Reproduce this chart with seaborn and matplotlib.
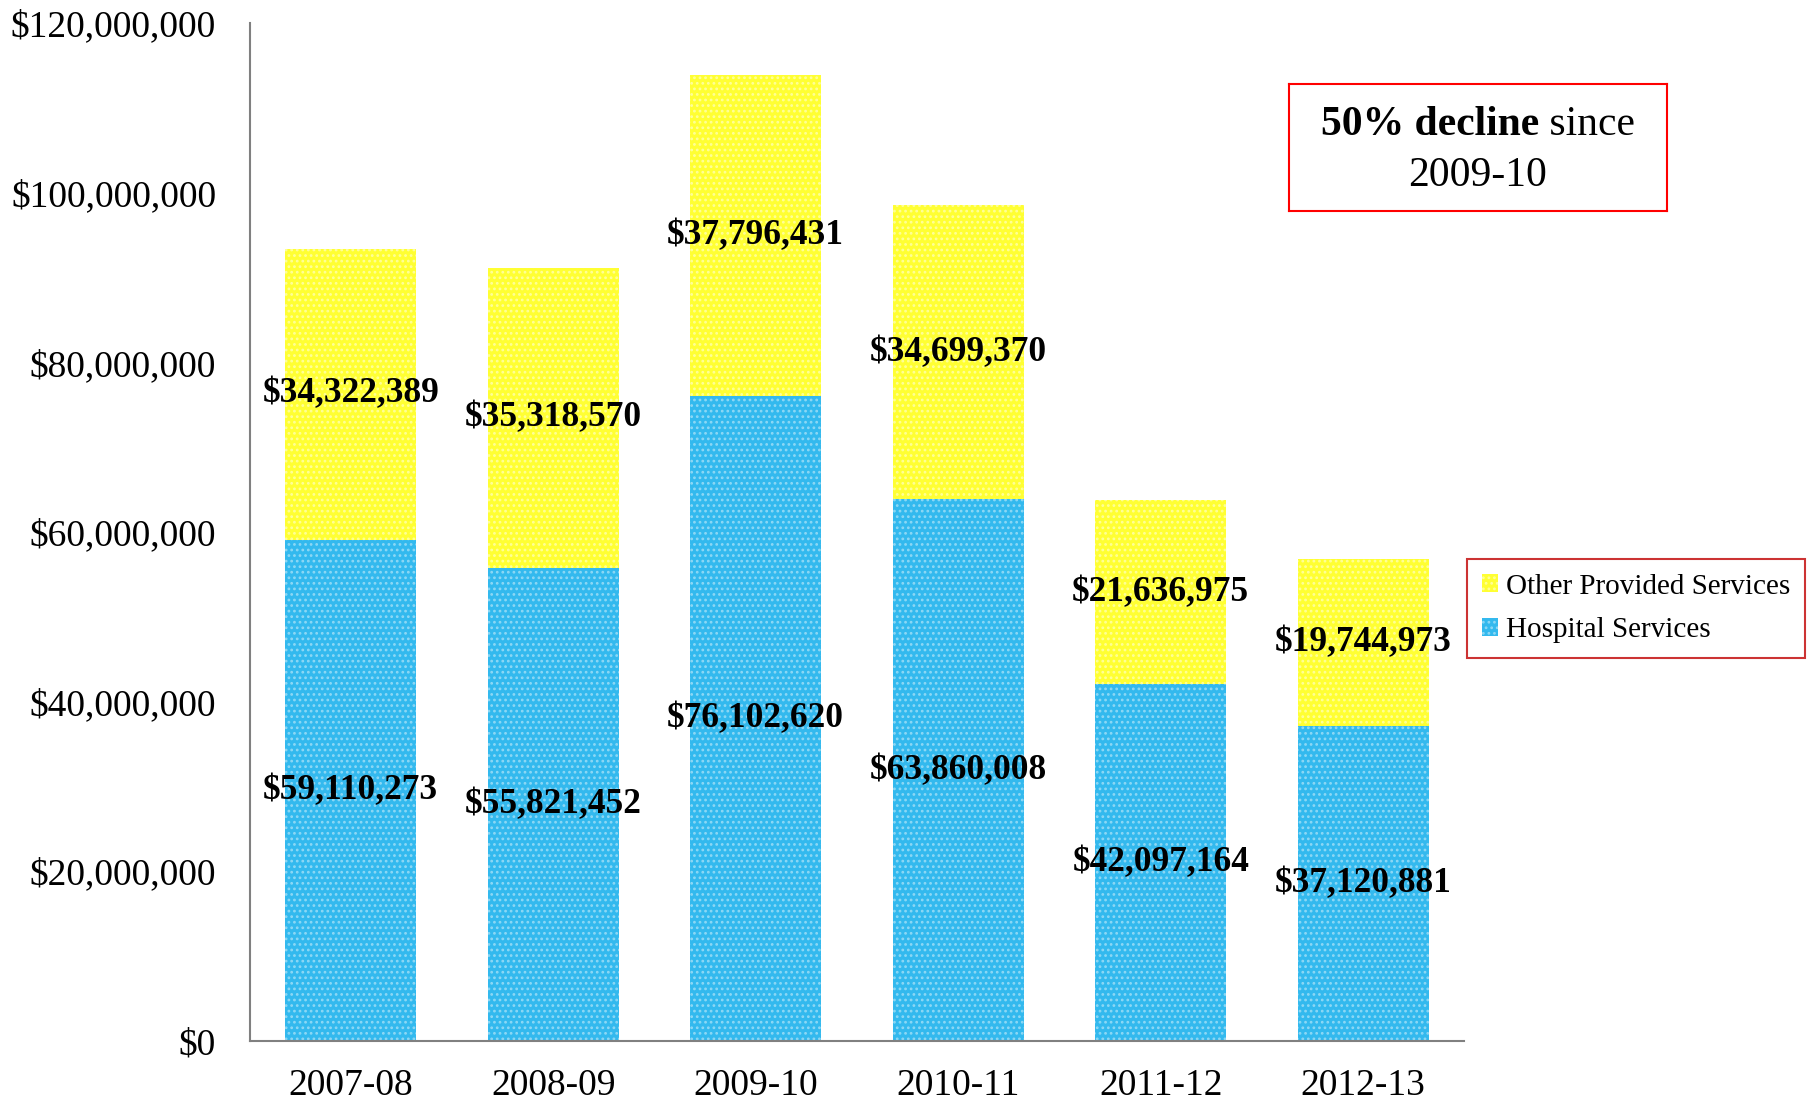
import matplotlib
matplotlib.use("Agg")
import matplotlib.pyplot as plt
import seaborn as sns
import pandas as pd
import numpy as np
from matplotlib.patches import Patch

years = ["2007-08", "2008-09", "2009-10", "2010-11", "2011-12", "2012-13"]
hospital = [59110273, 55821452, 76102620, 63860008, 42097164, 37120881]
other = [34322389, 35318570, 37796431, 34699370, 21636975, 19744973]
yticks = [0, 20000000, 40000000, 60000000, 80000000, 100000000, 120000000]

sns.set_theme(style="white")
plt.rcParams['font.family'] = ['Liberation Serif', 'DejaVu Serif']
plt.rcParams['hatch.linewidth'] = 1.2
plt.rcParams['text.color'] = 'black'
plt.rcParams['xtick.color'] = 'black'
plt.rcParams['ytick.color'] = 'black'

YEL = "#FFFF33"
BLU = "#33B9EE"

df = pd.DataFrame({"year": years, "hospital": hospital, "other": other})
df["total"] = df["hospital"] + df["other"]

fig = plt.figure(figsize=(18.08, 11.02), dpi=100)
ax = fig.add_axes([0.138, 0.0553, 0.672, 0.9237])

sns.barplot(data=df, x="year", y="total", color=YEL, width=0.645, ax=ax,
            saturation=1, edgecolor="#FFFF99", linewidth=0, hatch="...")
sns.barplot(data=df, x="year", y="hospital", color=BLU, width=0.645, ax=ax,
            saturation=1, edgecolor="#8ED8F5", linewidth=0, hatch="...")

for i, (h, o) in enumerate(zip(hospital, other)):
    ax.text(i, h / 2, f"${h:,}", ha="center", va="center", fontsize=25.5,
            fontweight="bold", color="black")
    ax.text(i, h + o / 2, f"${o:,}", ha="center", va="center", fontsize=25.5,
            fontweight="bold", color="black")

ax.set_ylim(0, 120000000)
ax.set_xlim(-0.5, 5.5)
ax.set_yticks(yticks)
ax.set_yticklabels([f"${v:,}" for v in yticks], fontsize=27)
ax.tick_params(axis="x", labelsize=27, length=0, pad=20, labelcolor="black")
ax.tick_params(axis="y", length=0, pad=24, labelcolor="black")
ax.set_xlabel("")
ax.set_ylabel("")
for s in ["top", "right"]:
    ax.spines[s].set_visible(False)
for s in ["left", "bottom"]:
    ax.spines[s].set_color("#808080")
    ax.spines[s].set_linewidth(1.5)

# annotation box
ax_box = fig.add_axes([1289/1808, 1 - 211/1102, 378/1808, 127/1102])
ax_box.set_xticks([]); ax_box.set_yticks([])
for s in ax_box.spines.values():
    s.set_color("#FF0000"); s.set_linewidth(1.5)
ax_box.patch.set_alpha(0)
t1 = ax_box.text(0.5, 0.68, "50% decline", ha="right", va="center", fontsize=30,
                 fontweight="bold", color="black", transform=ax_box.transAxes)
fig.canvas.draw()
r = fig.canvas.get_renderer()
bb1 = t1.get_window_extent(renderer=r)
t2 = ax_box.text(0, 0.68, " since", ha="left", va="center", fontsize=30,
                 color="black", transform=ax_box.transAxes)
bb2 = t2.get_window_extent(renderer=r)
wtot = bb1.width + bb2.width
bx0 = ax_box.get_window_extent(renderer=r)
cx = bx0.x0 + bx0.width / 2
left = cx - wtot / 2
t1.set_position(((left + bb1.width - bx0.x0) / bx0.width, 0.68))
t2.set_position(((left + bb1.width - bx0.x0) / bx0.width, 0.68))
ax_box.text(0.5, 0.28, "2009-10", ha="center", va="center", fontsize=30,
            color="black", transform=ax_box.transAxes)

handles = [Patch(facecolor=YEL, edgecolor="#FFFF99", hatch="...", linewidth=0,
                 label="Other Provided Services"),
           Patch(facecolor=BLU, edgecolor="#8ED8F5", hatch="...", linewidth=0,
                 label="Hospital Services")]
leg = fig.legend(handles=handles, loc="upper left",
                 bbox_to_anchor=(1467/1808, 1 - 559/1102), fontsize=21,
                 frameon=True, fancybox=False, handlelength=0.55, handleheight=0.55,
                 handletextpad=0.3, labelspacing=0.6, borderpad=0.5,
                 borderaxespad=0)
leg.get_frame().set_edgecolor("#C00000")
leg.get_frame().set_linewidth(1.5)
for t in leg.get_texts():
    t.set_color("black")

fig.savefig("out.png", dpi=100)
